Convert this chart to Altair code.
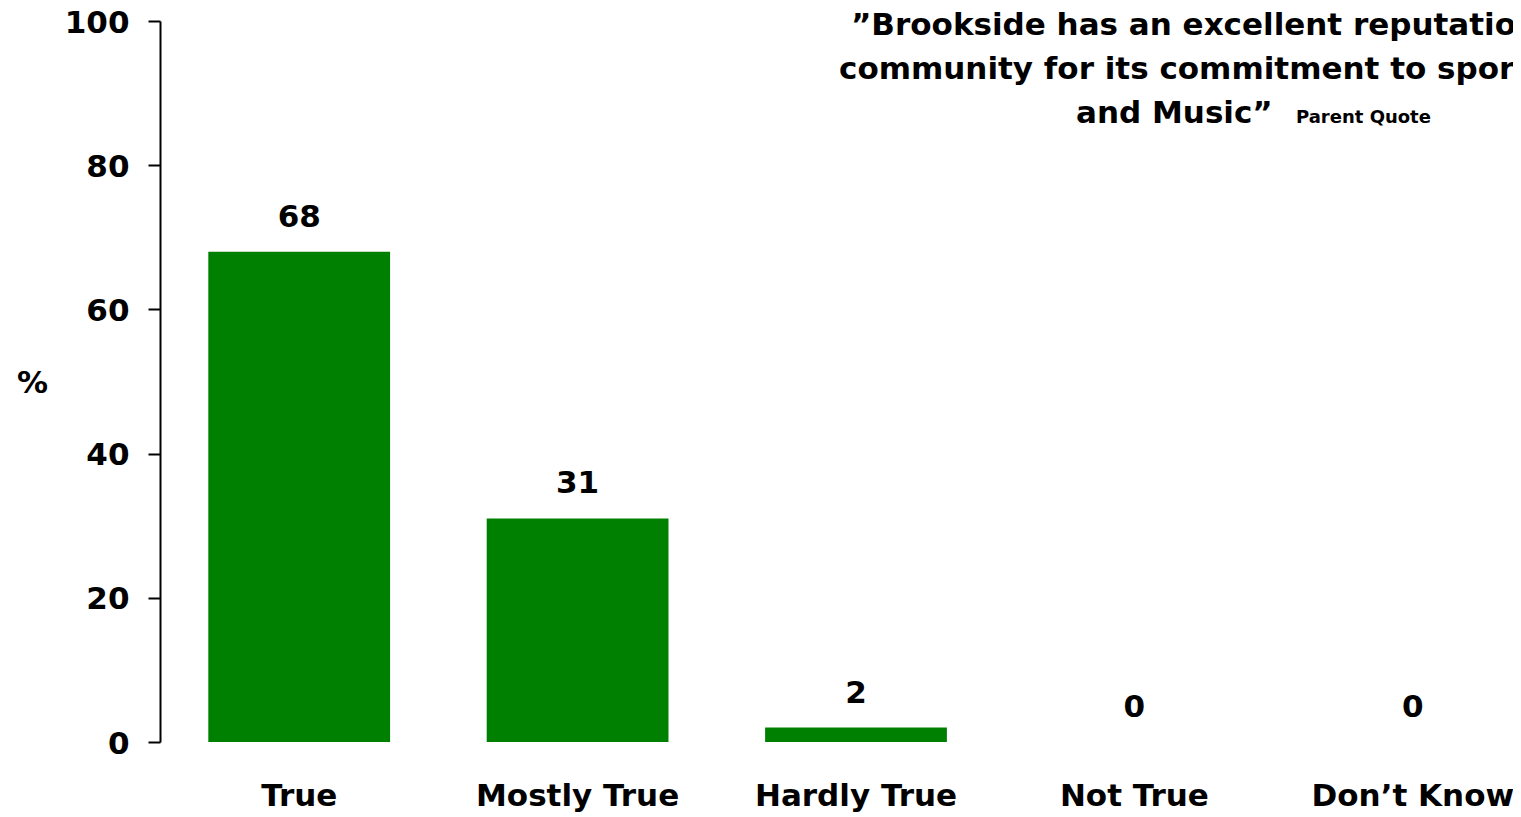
import altair as alt
import pandas as pd

categories = ["True", "Mostly True", "Hardly True", "Not True", "Don’t Know"]
values = [68, 31, 2, 0, 0]
y_ticks = [0, 20, 40, 60, 80, 100]
quote_lines = [
    "”Brookside has an excellent reputation in the",
    "community for its commitment to sports",
    "and Music”",
]
quote_source = "Parent Quote"

FONT = "DejaVu Sans"
BIG = 31
GREEN = "#008000"

# layout of the quote text block (plot coordinates)
QUOTE_X = [691, 679, 916]
QUOTE_Y = [14, 58, 102]

df = pd.DataFrame({"cat": categories, "val": values})

x_enc = alt.X(
    "cat:N",
    sort=categories,
    scale=alt.Scale(range=[0, 1392], paddingInner=0.347, paddingOuter=0.1735),
    axis=alt.Axis(
        title=None, domain=False, ticks=False, grid=False, labelAngle=0,
        labelFont=FONT, labelFontSize=BIG, labelFontWeight="bold",
        labelColor="black", labelPadding=63, labelBaseline="alphabetic",
        labelOverlap=False, labelLimit=0,
    ),
)
y_enc = alt.Y(
    "val:Q",
    scale=alt.Scale(domain=[0, 100], nice=False),
    axis=alt.Axis(
        values=y_ticks, grid=False, title="%",
        titleFont=FONT, titleFontSize=BIG, titleFontWeight="bold", titleColor="black",
        titleAngle=0, titleX=-128, titleY=362, titleAlign="center", titleBaseline="middle",
        labelFont=FONT, labelFontSize=BIG, labelFontWeight="bold", labelColor="black",
        labelPadding=19, labelOffset=2,
        domainColor="black", domainWidth=2, tickColor="black", tickWidth=2, tickSize=12,
    ),
)

bars = alt.Chart(df).mark_bar(color=GREEN).encode(x=x_enc, y=y_enc)
labels = alt.Chart(df).mark_text(
    font=FONT, fontSize=BIG, fontWeight="bold", color="black",
    baseline="alphabetic", dy=-25,
).encode(x=x_enc, y=y_enc, text="val:Q")

quote_marks = []
for i, line in enumerate(quote_lines):
    quote_marks.append(
        alt.Chart(pd.DataFrame({"t": [line]})).mark_text(
            font=FONT, fontSize=BIG, fontWeight="bold", color="black",
            align="left", baseline="alphabetic",
        ).encode(text="t:N", x=alt.value(QUOTE_X[i]), y=alt.value(QUOTE_Y[i]))
    )
source = alt.Chart(pd.DataFrame({"t": [quote_source]})).mark_text(
    font=FONT, fontSize=18, fontWeight="bold", color="black",
    align="left", baseline="alphabetic",
).encode(text="t:N", x=alt.value(1136), y=alt.value(102))

chart = alt.layer(bars, labels, *quote_marks, source).properties(
    width=1353, height=721,
    background="white",
    autosize=alt.AutoSizeParams(type="none"),
    padding={"left": 152, "top": 13, "right": 0, "bottom": 74},
).configure_view(strokeWidth=0, strokeOpacity=0).configure_axis(grid=False)

chart.save("out.html", embed_options={"renderer": "svg", "actions": False})
